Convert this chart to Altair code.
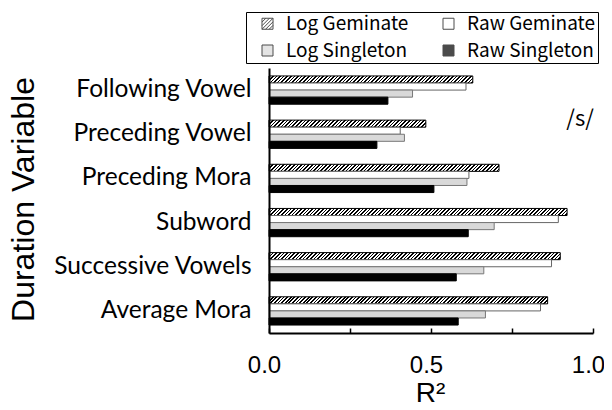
import altair as alt
import pandas as pd

categories = ["Following Vowel", "Preceding Vowel", "Preceding Mora",
              "Subword", "Successive Vowels", "Average Mora"]
series = ["Log Geminate", "Raw Geminate", "Log Singleton", "Raw Singleton"]
log_geminate = [0.629, 0.484, 0.710, 0.920, 0.899, 0.860]
raw_geminate = [0.608, 0.405, 0.617, 0.893, 0.872, 0.838]
log_singleton = [0.443, 0.418, 0.611, 0.695, 0.663, 0.668]
raw_singleton = [0.367, 0.333, 0.509, 0.615, 0.578, 0.584]
x_ticks = [0, 0.25, 0.5, 0.75, 1.0]

fills = ["white", "white", "#d9d9d9", "black"]
strokes = ["black", "#666666", "#777777", "black"]

W, H = 324, 265
PAD_IN, PAD_OUT = 0.36, 0.18
step = H / (len(categories) - PAD_IN + 2 * PAD_OUT)
sub_h = step * (1 - PAD_IN) / len(series)

rows = []
for i, c in enumerate(categories):
    for s, vals in zip(series, [log_geminate, raw_geminate, log_singleton, raw_singleton]):
        rows.append({"var": c, "series": s, "r2": vals[i]})
df = pd.DataFrame(rows)


def hatch(w, h, pitch=3.6, frac=0.45):
    a = h / w
    k = 1 + a
    denom = w * k * (1 + a * a)
    stops = []
    n = 0
    while True:
        s0 = n * pitch
        o0 = s0 / denom
        if o0 >= 1:
            break
        o1 = min((s0 + frac * pitch) / denom, 1)
        o2 = min((s0 + pitch) / denom, 1)
        stops += [(o0, "black"), (o1, "black"), (o1, "white"), (o2, "white")]
        n += 1
    return {"gradient": "linear", "x1": 0, "y1": 0, "x2": k, "y2": k * a,
            "stops": [{"offset": round(o, 5), "color": c} for o, c in stops]}


bar_conds = [
    {"test": f"datum.series === 'Log Geminate' && datum.var === '{c}'",
     "value": hatch(v * W, sub_h)}
    for c, v in zip(categories, log_geminate)
]


def hatch_square_path():
    parts = ["M-1,-1H1V1H-1Z"]
    for c in [-1.3, -0.65, 0, 0.65, 1.3]:
        if c <= 0:
            parts.append(f"M-1,{c + 1:.2f}L{c + 1:.2f},-1")
        else:
            parts.append(f"M{c - 1:.2f},1L1,{c - 1:.2f}")
    return "".join(parts)


square = "M-1,-1H1V1H-1Z"
shape_of = {"Log Geminate": hatch_square_path(), "Raw Geminate": square,
            "Log Singleton": square, "Raw Singleton": square}
fill_of = dict(zip(series, fills))
# legend is filled column by column: reorder so rows read LG RG / LS RS
legend_order = [series[0], series[2], series[1], series[3]]

yscale = alt.Scale(domain=categories, paddingInner=PAD_IN, paddingOuter=PAD_OUT)
xscale = alt.Scale(domain=[0, 1], nice=False)
fill_scale = alt.Scale(domain=legend_order, range=[fill_of[s] for s in legend_order])

legend = alt.Legend(
    title=None, orient="none", legendX=-23, legendY=-56,
    columns=2, columnPadding=20, rowPadding=7,
    strokeColor="black", fillColor="white", padding=2,
    symbolOffset=10, symbolSize=121, symbolStrokeWidth=1, symbolStrokeColor="black",
    labelFont="Noto Sans CJK JP", labelFontSize=19, labelColor="black",
    labelOffset=9, labelLimit=300,
)

bars = alt.Chart(df).mark_bar(strokeWidth=1).encode(
    x=alt.X("r2:Q", scale=xscale,
            axis=alt.Axis(orient="bottom", values=x_ticks, title="R²", zindex=1,
                          labelExpr="(datum.value === 0.25 || datum.value === 0.75) ? '' : format(datum.value, '.1f')",
                          labelFont="Liberation Sans", labelFontSize=24, labelColor="black",
                          labelFlush=False, labelBaseline="alphabetic", labelPadding=39,
                          labelOffset=-5,
                          ticks=False, domain=True, domainColor="black", domainWidth=2,
                          domainOpacity=1, grid=False,
                          titleFont="Liberation Sans", titleFontSize=28, titleFontWeight="normal",
                          titleColor="black", titleBaseline="alphabetic", titleY=68, titleX=161)),
    y=alt.Y("var:N", scale=yscale,
            axis=alt.Axis(title="Duration Variable", titleFont="Liberation Sans", titleFontSize=32,
                          titleFontWeight="normal", titleColor="black", titleAngle=270,
                          titleBaseline="alphabetic", titleAlign="center", titleX=-236, titleY=131,
                          labelFont="Lato", labelFontSize=24.5, labelColor="black", labelPadding=18,
                          labelLimit=400, ticks=False, domainColor="black", domainWidth=2,
                          grid=False, zindex=1)),
    yOffset=alt.YOffset("series:N", scale=alt.Scale(domain=series)),
    fill=alt.Fill("series:N", scale=fill_scale, condition=bar_conds, legend=legend),
    stroke=alt.Stroke("series:N", scale=alt.Scale(domain=series, range=strokes), legend=None),
)

legend_keys = alt.Chart(df).transform_filter("false").mark_point(
    filled=True, stroke="black", strokeWidth=1).encode(
    x=alt.X("r2:Q", scale=xscale,
            axis=alt.Axis(orient="bottom", offset=-5, values=x_ticks, labels=False, domain=False,
                          ticks=True, tickSize=5, tickColor="black", tickWidth=1.5,
                          title=None, grid=False, zindex=1)),
    y=alt.Y("var:N", scale=yscale),
    fill=alt.Fill("series:N", scale=fill_scale, legend=legend),
    shape=alt.Shape("series:N", scale=alt.Scale(domain=legend_order,
                                                range=[shape_of[s] for s in legend_order]),
                    legend=legend),
)

ann = pd.DataFrame({"x": [0.96], "var": ["Preceding Vowel"], "label": ["/s/"]})
text = alt.Chart(ann).mark_text(font="Noto Sans CJK JP", fontSize=22, baseline="alphabetic",
                                align="center", dy=-8, color="black").encode(
    x=alt.X("x:Q", scale=xscale, axis=None), y=alt.Y("var:N", scale=yscale), text="label:N")

chart = alt.layer(bars, legend_keys, text).resolve_axis(x="independent").properties(
    width=W, height=H,
    autosize=alt.AutoSizeParams(type="none"),
    padding={"left": 261, "top": 60, "right": 11, "bottom": 69},
).configure_view(stroke=None)

chart.save("out.html", embed_options={"renderer": "svg", "actions": False})
